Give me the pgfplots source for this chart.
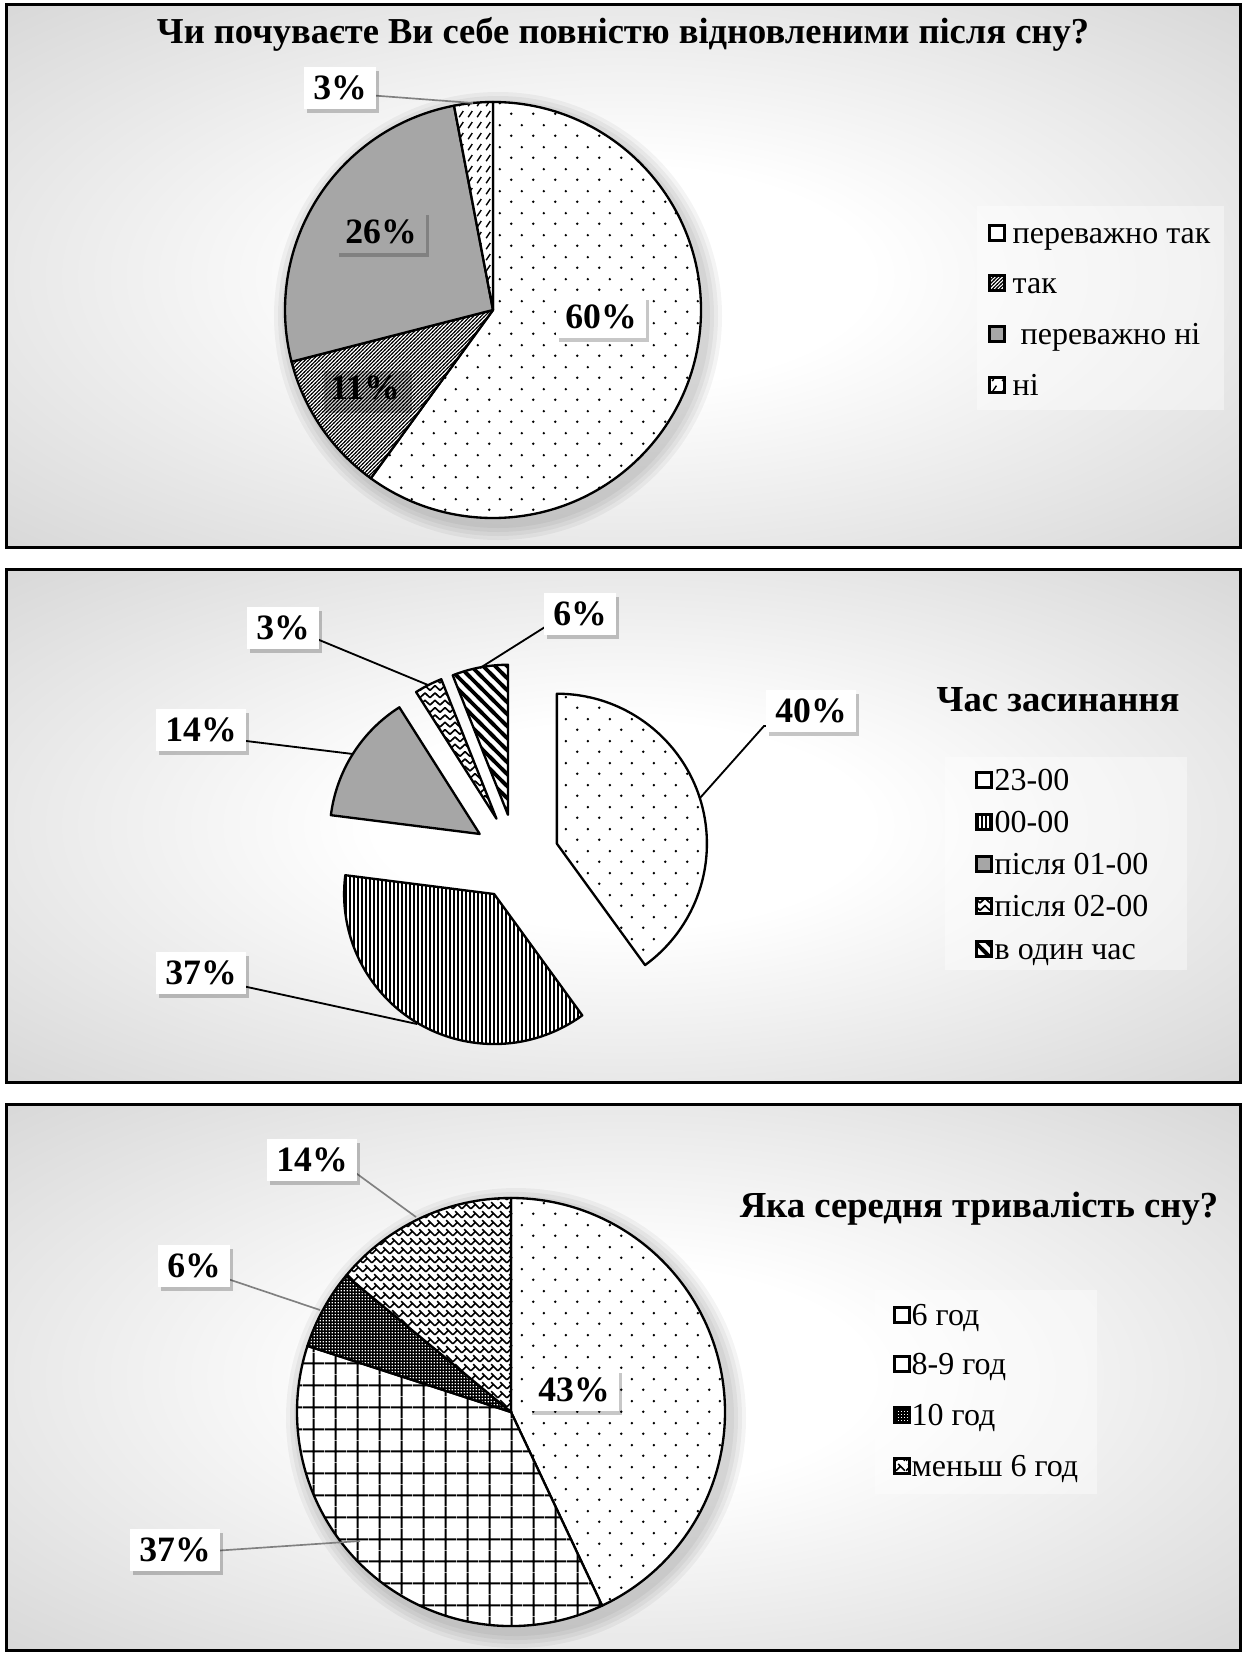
\documentclass[border=0pt]{standalone}
\usepackage{fontspec}
\setmainfont{Liberation Serif}
\usepackage{pgfplots}
\pgfplotsset{compat=1.18}
\usetikzlibrary{patterns}

% ---------- patterns ----------
\pgfdeclarepatternformonly{sdots}{\pgfpointorigin}{\pgfpoint{6.6pt}{6.6pt}}{\pgfpoint{6.6pt}{6.6pt}}{%
  \pgfpathcircle{\pgfpoint{1.65pt}{1.65pt}}{0.42pt}%
  \pgfpathcircle{\pgfpoint{4.95pt}{4.95pt}}{0.42pt}%
  \pgfusepath{fill}}
\pgfdeclarepatternformonly{ddiag}{\pgfpoint{-0.2pt}{-0.2pt}}{\pgfpoint{1.3pt}{1.3pt}}{\pgfpoint{1.1pt}{1.1pt}}{%
  \pgfsetlinewidth{0.32pt}%
  \pgfpathmoveto{\pgfpoint{-0.2pt}{-0.2pt}}\pgfpathlineto{\pgfpoint{1.3pt}{1.3pt}}\pgfusepath{stroke}}
\pgfdeclarepatternformonly{dashdiag}{\pgfpointorigin}{\pgfpoint{2.8pt}{3.3pt}}{\pgfpoint{2.8pt}{3.3pt}}{%
  \pgfsetlinewidth{0.45pt}%
  \pgfpathmoveto{\pgfpoint{0.7pt}{0.6pt}}\pgfpathlineto{\pgfpoint{2.0pt}{2.6pt}}\pgfusepath{stroke}}
\pgfdeclarepatternformonly{vlines}{\pgfpoint{0pt}{-0.1pt}}{\pgfpoint{1.2pt}{1.1pt}}{\pgfpoint{1.2pt}{1pt}}{%
  \pgfsetlinewidth{0.45pt}%
  \pgfpathmoveto{\pgfpoint{0.6pt}{-0.1pt}}\pgfpathlineto{\pgfpoint{0.6pt}{1.1pt}}\pgfusepath{stroke}}
\pgfdeclarepatternformonly{zz}{\pgfpoint{0pt}{-0.3pt}}{\pgfpoint{3pt}{2.3pt}}{\pgfpoint{3pt}{2.2pt}}{%
  \pgfsetlinewidth{0.5pt}%
  \pgfpathmoveto{\pgfpoint{0pt}{0.2pt}}\pgfpathlineto{\pgfpoint{1.5pt}{1.6pt}}\pgfpathlineto{\pgfpoint{3pt}{0.2pt}}\pgfusepath{stroke}}
\pgfdeclarepatternformonly{tdiag}{\pgfpoint{-1pt}{-1pt}}{\pgfpoint{4.6pt}{4.6pt}}{\pgfpoint{3.6pt}{3.6pt}}{%
  \pgfsetlinewidth{1.1pt}%
  \pgfpathmoveto{\pgfpoint{-1pt}{4.6pt}}\pgfpathlineto{\pgfpoint{4.6pt}{-1pt}}\pgfusepath{stroke}}
\pgfdeclarepatternformonly{bgrid}{\pgfpointorigin}{\pgfpoint{6.5pt}{6.5pt}}{\pgfpoint{6.5pt}{6.5pt}}{%
  \pgfsetlinewidth{0.6pt}%
  \pgfpathmoveto{\pgfpoint{0pt}{3.25pt}}\pgfpathlineto{\pgfpoint{6.5pt}{3.25pt}}%
  \pgfpathmoveto{\pgfpoint{3.25pt}{0pt}}\pgfpathlineto{\pgfpoint{3.25pt}{6.5pt}}\pgfusepath{stroke}}
\pgfdeclarepatternformonly{chk}{\pgfpointorigin}{\pgfpoint{1pt}{1pt}}{\pgfpoint{1pt}{1pt}}{%
  \pgfpathrectangle{\pgfpointorigin}{\pgfpoint{1pt}{0.62pt}}%
  \pgfpathrectangle{\pgfpointorigin}{\pgfpoint{0.62pt}{1pt}}\pgfusepath{fill}}
\pgfdeclarepatternformonly{weave}{\pgfpoint{0pt}{0pt}}{\pgfpoint{2.8pt}{2.8pt}}{\pgfpoint{2.8pt}{2.8pt}}{%
  \pgfsetlinewidth{0.5pt}%
  \pgfpathmoveto{\pgfpoint{0pt}{0.4pt}}\pgfpathlineto{\pgfpoint{1.4pt}{1.8pt}}\pgfpathlineto{\pgfpoint{2.8pt}{0.4pt}}%
  \pgfpathmoveto{\pgfpoint{0.7pt}{2.5pt}}\pgfpathlineto{\pgfpoint{1.4pt}{1.8pt}}%
  \pgfusepath{stroke}}

\definecolor{sgray}{HTML}{A6A6A6}
\pgfdeclareradialshading{bgshade}{\pgfpoint{0bp}{0bp}}{color(0bp)=(white); color(10bp)=(white); color(50bp)=(black!24); color(72bp)=(black!33)}

\tikzset{
 s-dots/.style={preaction={fill=white},pattern=sdots},
 s-ddiag/.style={preaction={fill=white},pattern=ddiag},
 s-gray/.style={fill=sgray},
 s-white/.style={fill=white},
 s-dash/.style={preaction={fill=white},pattern=dashdiag},
 s-vl/.style={preaction={fill=white},pattern=vlines},
 s-zz/.style={preaction={fill=white},pattern=zz},
 s-td/.style={preaction={fill=white},pattern=tdiag},
 s-grid/.style={preaction={fill=white},pattern=bgrid},
 s-chk/.style={preaction={fill=white},pattern=chk},
 s-wv/.style={preaction={fill=white},pattern=weave},
 lab/.style={font=\rmfamily\bfseries\fontsize{10.7}{12}\selectfont, inner xsep=2.8pt, inner ysep=1.5pt, minimum height=12.5pt},
 leg/.style={font=\rmfamily\fontsize{9.6}{11}\selectfont, anchor=base west, inner sep=0pt},
 ttl/.style={font=\rmfamily\bfseries\fontsize{11}{13}\selectfont, inner sep=0pt},
}

\newcommand\labl[4]{%
  \node[lab, fill=black, fill opacity=0.22, text opacity=0] at ({#1+3},{#2+4}) {#3};
  \node[lab, fill=#4] at (#1,#2) {#3};}
\newcommand\legentry[5]{%
  \filldraw[#3, draw=black, line width=0.9pt] ({#1-1},{#2-8}) rectangle ++(15,15);
  \node[leg] at (#4,{#2+10}) {#5};}
\newcommand\panel[4]{%
  \shade[shading=bgshade] (#1,#2) rectangle (#3,#4);
  \draw[line width=0.9pt] (#1,#2) rectangle (#3,#4);}
\newcommand\pieshadow[3]{%
  \foreach \k in {16,12,8,4} {\fill[black, opacity=0.045] ({#1+5},{#2+6}) circle[radius={(#3+\k)*0.3pt}];}}

% pie drawn from the values (percent) inside an axis
\newcommand\drawpie[3]{%
 \gdef\cum{0}%
 \foreach \v/\sty in {#1} {%
   \pgfmathsetmacro\a{90-3.6*\cum}%
   \pgfmathsetmacro\b{90-3.6*(\cum+\v)}%
   \pgfmathsetmacro\m{(\a+\b)/2}%
   \pgfmathsetmacro\ex{#3*cos(\m)}%
   \pgfmathsetmacro\ey{#3*sin(\m)}%
   \edef\temp{\noexpand\filldraw[\sty,draw=black,line width=0.7pt,line join=round] (axis cs:\ex,\ey) -- ++(\a:#2) arc[start angle=\a,end angle=\b,radius=#2] -- cycle;}%
   \temp
   \pgfmathsetmacro\nc{\cum+\v}%
   \global\let\cum\nc
 }}

\begin{document}
\begin{tikzpicture}
\useasboundingbox (0,0) rectangle (373.8pt,-497.7pt);

\begin{scope}[x=0.3pt,y=-0.3pt]
 \panel{6}{5}{1240}{547}
 \panel{6}{569}{1240}{1082}
 \panel{6}{1104}{1240}{1650}
 \pieshadow{493}{310}{208}
 \pieshadow{511}{1412}{214}
 % titles
 \node[ttl, font=\rmfamily\bfseries\fontsize{10.95}{13}\selectfont] at (623,34) {Чи почуваєте Ви себе повністю відновленими після сну?};
 \node[ttl] at (1058,700) {Час засинання};
 \node[ttl] at (979,1209) {Яка середня тривалість сну?};
 % legend boxes
 \fill[white, opacity=0.4] (977,206) rectangle (1224,410);
 \fill[white, opacity=0.4] (945,757) rectangle (1187,970);
 \fill[white, opacity=0.4] (875,1290) rectangle (1097,1494);
 \legentry{990}{233}{s-white}{1012}{переважно так}
 \legentry{990}{283}{s-ddiag}{1012}{так}
 \legentry{990}{334}{s-gray}{1012}{\ переважно ні}
 \legentry{990}{385}{s-dash}{1012}{ні}
 \legentry{977}{780}{s-white}{994}{23-00}
 \legentry{977}{822}{s-vl}{994}{00-00}
 \legentry{977}{864}{s-gray}{994}{після 01-00}
 \legentry{977}{906}{s-zz}{994}{після 02-00}
 \legentry{977}{949}{s-td}{994}{в один час}
 \legentry{895}{1315}{s-white}{911}{6 год}
 \legentry{895}{1364}{s-white}{911}{8-9 год}
 \legentry{895}{1415}{s-chk}{911}{10 год}
 \legentry{895}{1466}{s-wv}{911}{меньш 6 год}
\end{scope}

% ---------- pies ----------
\begin{axis}[at={(147.9pt,-93pt)}, anchor=origin, x=0.3pt, y=0.3pt,
  xmin=-230, xmax=230, ymin=-230, ymax=230, hide axis, clip=false]
 \drawpie{60/s-dots, 11/s-ddiag, 26/s-gray, 3/s-dash}{62.4pt}{0}
\end{axis}
\begin{axis}[at={(154.8pt,-257.1pt)}, anchor=origin, x=0.3pt, y=0.3pt,
  xmin=-230, xmax=230, ymin=-230, ymax=230, hide axis, clip=false]
 \drawpie{40/s-dots, 37/s-vl, 14/s-gray, 3/s-zz, 6/s-td}{45pt}{43}
\end{axis}
\begin{axis}[at={(153.3pt,-423.6pt)}, anchor=origin, x=0.3pt, y=0.3pt,
  xmin=-230, xmax=230, ymin=-230, ymax=230, hide axis, clip=false]
 \drawpie{43/s-dots, 37/s-grid, 6/s-chk, 14/s-wv}{64.2pt}{0}
\end{axis}

% ---------- data labels ----------
\begin{scope}[x=0.3pt,y=-0.3pt]
 \draw[gray, line width=0.5pt] (367,95) -- (473,103);
 \labl{601}{317}{60\%}{white}
 \labl{365}{388}{11\%}{none}
 \labl{381}{232}{26\%}{sgray}
 \labl{340}{88}{3\%}{white}
 % panel 2
 \draw[line width=0.55pt] (773,726) -- (764,726) -- (700,798);
 \draw[line width=0.55pt] (552,627) -- (545,627) -- (480,668);
 \draw[line width=0.55pt] (312,637) -- (428,685);
 \draw[line width=0.55pt] (238,740) -- (353,754);
 \draw[line width=0.55pt] (238,985) -- (417,1024);
 \labl{811}{711}{40\%}{white}
 \labl{580}{614}{6\%}{white}
 \labl{283}{628}{3\%}{white}
 \labl{201}{730}{14\%}{white}
 \labl{201}{973}{37\%}{white}
 % panel 3
 \draw[gray, line width=0.5pt] (349,1168) -- (416,1217);
 \draw[gray, line width=0.5pt] (219,1276) -- (320,1310);
 \draw[gray, line width=0.5pt] (212,1551) -- (360,1541);
 \labl{574}{1390}{43\%}{white}
 \labl{312}{1160}{14\%}{white}
 \labl{194}{1266}{6\%}{white}
 \labl{175}{1550}{37\%}{white}
\end{scope}
\end{tikzpicture}
\end{document}
